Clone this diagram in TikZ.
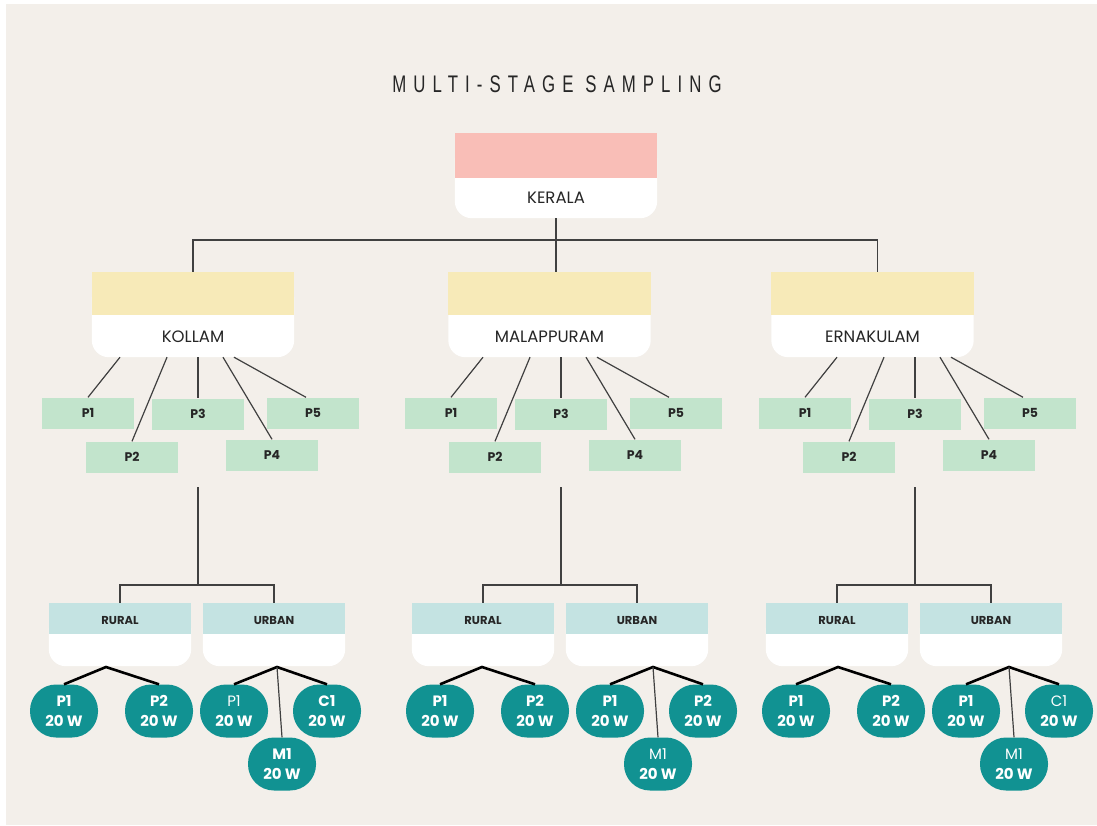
\documentclass[tikz,border=0pt]{standalone}
\usepackage{fontspec}
\setmainfont{Poppins}
\newfontfamily\titlefont[FakeStretch=0.7,LetterSpace=29.5]{Liberation Sans}
\usetikzlibrary{backgrounds,calc}

\definecolor{paper}{RGB}{243,239,234}
\definecolor{headpink}{RGB}{249,190,183}
\definecolor{headyellow}{RGB}{247,234,184}
\definecolor{headteal}{RGB}{196,227,226}
\definecolor{pgreen}{RGB}{194,228,204}
\definecolor{leafteal}{RGB}{17,146,146}

\tikzset{
  wire/.style={line width=1.2pt, black!75},
  twig/.style={line width=2.6pt, black},
  distbox/.style={inner sep=0pt, minimum width=202pt, text height=70pt, text depth=15pt,
    font=\fontsize{16.5}{18}\selectfont, text=black!85},
  sitebox/.style={inner sep=0pt, minimum width=142pt, text height=21pt, text depth=42pt,
    font=\bfseries\fontsize{11.5}{12}\selectfont, text=black!85},
  pbox/.style={fill=pgreen, inner sep=0pt, minimum width=92pt, minimum height=31pt,
    font=\bfseries\fontsize{12.5}{14}\selectfont, text=black!85},
  leaf/.style={fill=leafteal, rounded corners=26pt, inner sep=0pt, minimum width=68pt,
    minimum height=53pt, align=center, text=white, font=\bfseries\fontsize{15}{20}\selectfont},
}

% coloured head band over a white box with round bottom corners
\newcommand\headfill[3]{%
  \begin{scope}[on background layer]
    \fill[white, rounded corners=17pt] ([yshift=-10pt]#1.north west) -- (#1.south west)
      -- (#1.south east) -- ([yshift=-10pt]#1.north east) -- cycle;
    \fill[#2] (#1.north west) rectangle ([yshift=-#3]#1.north east);
  \end{scope}}

% one district: id, name, box x, column x, leaf shift, urban leaves
\newcommand\branch[8]{%
  \node[distbox] (#1) at (#3,314.5) {#2};
  \headfill{#1}{headyellow}{43pt}
  \node[pbox] (#1p1) at (#4-110,413) {P1};
  \node[pbox] (#1p2) at (#4-66,457) {P2};
  \node[pbox] (#1p3) at (#4,414) {P3};
  \node[pbox] (#1p4) at (#4+74,455) {P4};
  \node[pbox] (#1p5) at (#4+115,413) {P5};
  \draw[wire] ([xshift=#4-#3-78]#1.south) -- (#1p1.north);
  \draw[wire] ([xshift=#4-#3-31]#1.south) -- (#1p2.north);
  \draw[wire] ([xshift=#4-#3]#1.south) -- (#1p3.north);
  \draw[wire] ([xshift=#4-#3+25]#1.south) -- (#1p4.north);
  \draw[wire] ([xshift=#4-#3+36]#1.south) -- ([xshift=-7pt]#1p5.north);
  % rural / urban split
  \node[sitebox] (#1r) at (#4-78,634.5) {RURAL};
  \node[sitebox] (#1u) at (#4+76,634.5) {URBAN};
  \headfill{#1r}{headteal}{31pt}
  \headfill{#1u}{headteal}{31pt}
  \coordinate (#1top) at (#4,487);
  \draw[wire] (#1top) -- (#4,585) coordinate (#1fork);
  \draw[wire] (#1r.north) |- (#1fork) -| (#1u.north);
  % wards
  \node[leaf] (#1rl) at (#4-121#5,711) {P1\\20 W};
  \node[leaf] (#1rr) at (#4-26#5,711) {P2\\20 W};
  \node[leaf] (#1ul) at (#4+49#5,711) {#6\\20 W};
  \node[leaf] (#1ur) at (#4+142#5,711) {#7\\20 W};
  \node[leaf] (#1um) at (#4+97#5,764) {#8\\20 W};
  \coordinate (#1ra) at (#4-79#5,667);
  \coordinate (#1ua) at (#4+92#5,667);
  \draw[twig] (#1rl.north) -- (#1ra) -- (#1rr.north);
  \draw[twig] (#1ul.north) -- (#1ua) -- (#1ur.north);
  \draw[wire] (#1ua) -- (#1um.north);
}

\begin{document}
\begin{tikzpicture}[x=1pt,y=-1pt]
  %%%%% START %%%%%
  \useasboundingbox (0,0) rectangle (1097,825);
  \begin{scope}[on background layer]
    \fill[white] (0,0) rectangle (1097,825);
    \fill[paper] (6,4) rectangle (1097,825);
  \end{scope}

  \node[font=\titlefont\fontsize{24}{26}\selectfont, text=black!85] (title) at (557,84) {MULTI-STAGE SAMPLING};

  \node[distbox] (kerala) at (556,175.5) {KERALA};
  \headfill{kerala}{headpink}{45pt}

  \branch{kol}{KOLLAM}{193}{198}{-13}{{\mdseries P1}}{C1}{M1}
  \branch{mal}{MALAPPURAM}{549.5}{561}{+0}{P1}{P2}{{\mdseries M1}}
  \branch{ern}{ERNAKULAM}{872.5}{915}{+2}{P1}{{\mdseries C1}}{{\mdseries M1}}

  \coordinate (bar) at (556,240);
  \draw[wire] (kerala.south) -- (kerala.south |- mal.north);
  \draw[wire] (kol.north) |- (bar) -| ([xshift=5pt]ern.north);
  %%%%% END %%%%%
\end{tikzpicture}
\end{document}
